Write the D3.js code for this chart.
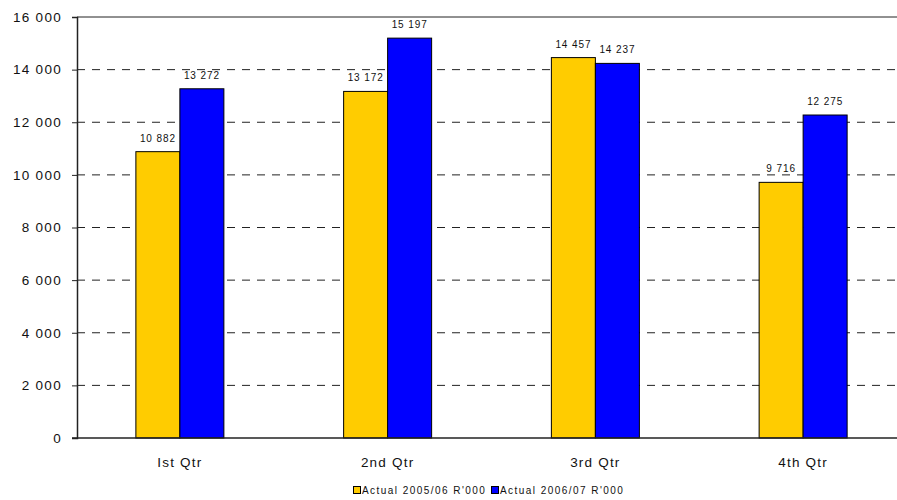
<!DOCTYPE html>
<html>
<head>
<meta charset="utf-8">
<script src="https://cdn.jsdelivr.net/npm/d3@7"></script>
<style>
  html, body { margin: 0; padding: 0; background: #fff; }
  svg { display: block; font-family: "Liberation Sans", Arial, sans-serif; }
</style>
</head>
<body>
<svg id="chart" width="897" height="500"></svg>
<script>
// Quarterly actuals, R'000
const categories = ["Ist Qtr", "2nd Qtr", "3rd Qtr", "4th Qtr"];
const seriesNames = ["Actual 2005/06 R'000", "Actual 2006/07 R'000"];
const actual0506 = [10882, 13172, 14457, 9716];
const actual0607 = [13272, 15197, 14237, 12275];
const yTicks = [0, 2000, 4000, 6000, 8000, 10000, 12000, 14000, 16000];
const colors = ["#FFCC00", "#0000FF"];

const svg = d3.select("#chart");
const plotLeft = 77, plotRight = 897, plotTop = 17, plotBottom = 438;
// category bands run slightly past the visible right edge
const bandLeft = 76, bandRight = 907;

const fmt = v => d3.format(",")(v).replace(/,/g, " ");

const x = d3.scaleBand().domain(categories).range([bandLeft, bandRight]).padding(0);
const groupWidth = 88;
const x1 = d3.scaleBand().domain(seriesNames).range([0, groupWidth]).padding(0);
const y = d3.scaleLinear().domain([0, 16000]).range([plotBottom, plotTop]);

// Dashed gridlines
svg.append("g")
  .selectAll("line")
  .data(yTicks.filter(t => t > 0 && t < 16000))
  .join("line")
  .attr("x1", plotLeft).attr("x2", plotRight)
  .attr("y1", d => y(d)).attr("y2", d => y(d))
  .attr("stroke", "#222")
  .attr("stroke-width", 1)
  .attr("stroke-dasharray", "8,7");

// Top border
svg.append("line")
  .attr("x1", plotLeft).attr("x2", plotRight)
  .attr("y1", y(16000)).attr("y2", y(16000))
  .attr("stroke", "#222").attr("stroke-width", 1);

// Y axis
const yAxis = d3.axisLeft(y).tickValues(yTicks).tickSize(5).tickPadding(10).tickFormat(fmt);
const gy = svg.append("g").attr("transform", `translate(${plotLeft},0)`).call(yAxis);
gy.select(".domain").attr("stroke", "#222").attr("stroke-width", 1.5);
gy.selectAll(".tick line").attr("stroke", "#222");
gy.selectAll(".tick text")
  .attr("fill", "#111")
  .style("font-size", "13.5px")
  .style("letter-spacing", "1.3px");

// Bars
const series = [actual0506, actual0607];
const groups = svg.append("g")
  .selectAll("g")
  .data(categories)
  .join("g")
  .attr("transform", d => `translate(${x(d) + x.bandwidth() / 2 - groupWidth / 2},0)`);

groups.each(function(cat, ci) {
  const g = d3.select(this);
  seriesNames.forEach((s, si) => {
    const v = series[si][ci];
    g.append("rect")
      .attr("x", x1(s))
      .attr("y", y(v))
      .attr("width", x1.bandwidth())
      .attr("height", y(0) - y(v))
      .attr("fill", colors[si])
      .attr("stroke", "#000")
      .attr("stroke-width", 1);
    g.append("text")
      .attr("x", x1(s) + x1.bandwidth() / 2)
      .attr("y", y(v) - 10)
      .attr("text-anchor", "middle")
      .attr("fill", "#111")
      .style("font-size", "10px")
      .style("letter-spacing", "0.9px")
      .text(fmt(v));
  });
});

// Baseline
svg.append("line")
  .attr("x1", plotLeft - 5).attr("x2", plotRight)
  .attr("y1", y(0)).attr("y2", y(0))
  .attr("stroke", "#222").attr("stroke-width", 1.5);

// Category labels
svg.append("g")
  .selectAll("text")
  .data(categories)
  .join("text")
  .attr("x", d => x(d) + x.bandwidth() / 2)
  .attr("y", 467)
  .attr("text-anchor", "middle")
  .attr("fill", "#111")
  .style("font-size", "13.5px")
  .style("letter-spacing", "1.2px")
  .text(d => d);

// Legend
const legend = svg.append("g").attr("transform", "translate(353,493)");
const itemX = [0, 138];
seriesNames.forEach((s, i) => {
  const gi = legend.append("g").attr("transform", `translate(${itemX[i]},0)`);
  gi.append("rect")
    .attr("x", 0.5).attr("y", -6.5)
    .attr("width", 7).attr("height", 7)
    .attr("fill", colors[i]).attr("stroke", "#000");
  gi.append("text")
    .attr("x", 9).attr("y", 1)
    .attr("fill", "#111")
    .style("font-size", "10px")
    .style("letter-spacing", "1.45px")
    .text(s);
});
</script>
</body>
</html>
